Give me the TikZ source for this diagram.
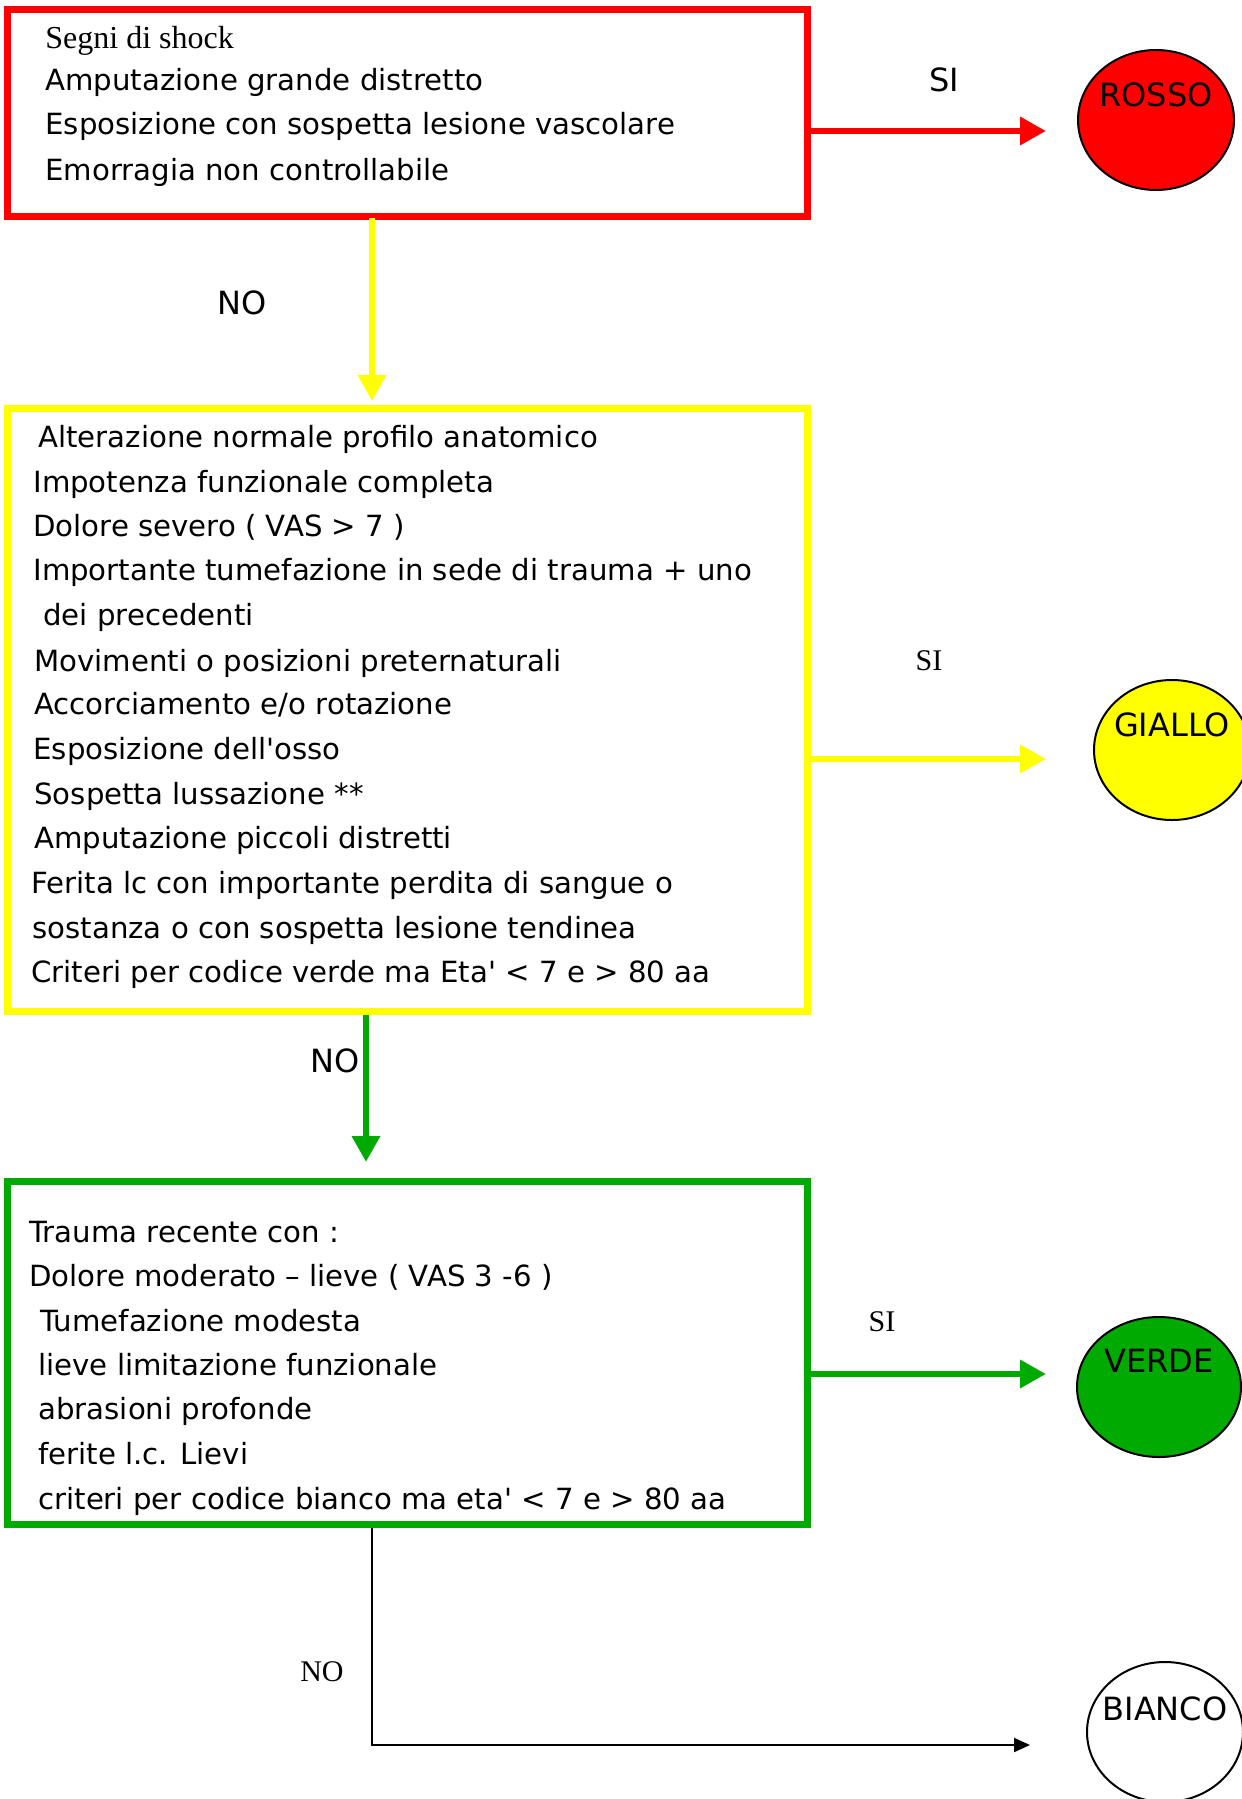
\documentclass[tikz,border=0pt]{standalone}
\usepackage{fontspec}
\setmainfont{DejaVu Sans}[Ligatures=TeXOff]
\newfontfamily\timesf{Liberation Serif}[Ligatures=TeXOff]
\usetikzlibrary{arrows.meta,shapes.geometric}
\definecolor{cRed}{RGB}{255,0,0}
\definecolor{cYel}{RGB}{255,255,0}
\definecolor{cGrn}{RGB}{0,170,0}
\begin{document}
\begin{tikzpicture}[x=0.5pt,y=-0.5pt,
  boxframe/.style={draw, line width=3.5pt, minimum width=400pt, inner sep=0pt},
  body/.style={font=\fontsize{14.6}{17}\selectfont, anchor=west, inner sep=0pt, text height=10.7pt, text depth=0pt},
  serifbody/.style={font=\timesf\fontsize{16}{19}\selectfont, anchor=west, inner sep=0pt, text height=10.6pt, text depth=0pt},
  caplabel/.style={font=\fontsize{16}{19}\selectfont, inner sep=0pt, text height=11.7pt, text depth=0pt},
  seriflabel/.style={font=\timesf\fontsize{15}{18}\selectfont, inner sep=0pt, text height=9.9pt, text depth=0pt},
  colell/.style={ellipse, draw=black, line width=1pt, minimum width=78pt, minimum height=70pt, inner sep=0pt},
  thickarrow/.style={line width=3.2pt, -{Triangle[length=13pt,width=13.5pt]}},
  thinarrow/.style={line width=1pt, -{Triangle[length=8pt,width=7pt]}}
]
\useasboundingbox (0,0) rectangle (1242,1799);
\clip (0,0) rectangle (1242,1799);

% boxes
\node[boxframe, draw=cRed, minimum height=103.5pt] (rbox) at (407,112.5) {};
\node[boxframe, draw=cYel, minimum height=301.5pt] (ybox) at (407,709.5) {};
\node[boxframe, draw=cGrn, minimum height=171.5pt] (gbox) at (407,1352.5) {};

% ellipses
\node[colell, fill=cRed] (rosso) at (1156,120) {};
\node[colell, fill=cYel] (giallo) at (1172,750) {};
\node[colell, fill=cGrn, minimum width=82pt] (verde) at (1159,1387) {};
\node[colell, fill=white] (bianco) at (1165,1732) {};
\node[caplabel] (rossot) at ([yshift=12.5pt]rosso.center) {ROSSO};
\node[caplabel] (giallot) at ([yshift=12.5pt]giallo.center) {GIALLO};
\node[caplabel] (verdet) at ([yshift=13pt]verde.center) {VERDE};
\node[caplabel] (biancot) at ([yshift=11.5pt]bianco.center) {BIANCO};

% red box text
\node[serifbody] (r1) at (45,38) {Segni di shock};
\node[body] (r2) at (45,80) {Amputazione grande distretto};
\node[body] (r3) at (45,124) {Esposizione con sospetta lesione vascolare};
\node[body] (r4) at (45,170) {Emorragia non controllabile};

% yellow box text
\node[body] (y1) at (38,437) {Alterazione normale profilo anatomico};
\node[body] (y2) at (33,482) {Impotenza funzionale completa};
\node[body] (y3) at (33,526) {Dolore severo ( VAS > 7 )};
\node[body] (y4) at (33,570) {Importante tumefazione in sede di trauma + uno};
\node[body] (y5) at (43,615) {dei precedenti};
\node[body] (y6) at (34,661) {Movimenti o posizioni preternaturali};
\node[body] (y7) at (34,704) {Accorciamento e/o rotazione};
\node[body] (y8) at (33,749) {Esposizione dell'osso};
\node[body] (y9) at (34,794) {Sospetta lussazione **};
\node[body] (y10) at (34,838) {Amputazione piccoli distretti};
\node[body] (y11) at (31,883) {Ferita lc con importante perdita di sangue o};
\node[body] (y12) at (32,928) {sostanza o con sospetta lesione tendinea};
\node[body] (y13) at (31,972) {Criteri per codice verde ma Eta' < 7 e > 80 aa};

% green box text
\node[body] (g1) at (29,1232) {Trauma recente con :};
\node[body] (g2) at (29,1276) {Dolore moderato – lieve ( VAS 3 -6 )};
\node[body] (g3) at (40,1321) {Tumefazione modesta};
\node[body] (g4) at (38,1365) {lieve limitazione funzionale};
\node[body] (g5) at (38,1409) {abrasioni profonde};
\node[body] (g6) at (38,1454) {ferite l.c. Lievi};
\node[body] (g7) at (38,1499) {criteri per codice bianco ma eta' < 7 e > 80 aa};

% connector end points
\coordinate (rsi) at (1046,131);
\coordinate (ysi) at (1046,759);
\coordinate (gsi) at (1046,1374);
\coordinate (bend) at (1030,1745);
\coordinate (cx1) at (372,0);
\coordinate (cx2) at (366,0);
\coordinate (ytip) at (0,401);
\coordinate (gtip) at (0,1162);

% connectors
\draw[thickarrow, draw=cRed, fill=cRed] (rbox.east |- rsi) -- (rsi);
\draw[thickarrow, draw=cYel, fill=cYel] ([yshift=1pt]rbox.south -| cx1) -- (ytip -| cx1);
\draw[thickarrow, draw=cYel, fill=cYel] (ybox.east |- ysi) -- (ysi);
\draw[thickarrow, draw=cGrn, fill=cGrn] (ybox.south -| cx2) -- (gtip -| cx2);
\draw[thickarrow, draw=cGrn, fill=cGrn] (gbox.east |- gsi) -- (gsi);
\draw[thinarrow] (gbox.south -| cx1) |- (bend);

% labels
\node[caplabel] (si1) at (944,80) {SI};
\node[caplabel] (no1) at (242,303) {NO};
\node[seriflabel] (si2) at (929,661) {SI};
\node[caplabel] (no2) at (335,1061) {NO};
\node[seriflabel] (si3) at (882,1322) {SI};
\node[seriflabel] (no3) at (322,1672) {NO};
\end{tikzpicture}
\end{document}
